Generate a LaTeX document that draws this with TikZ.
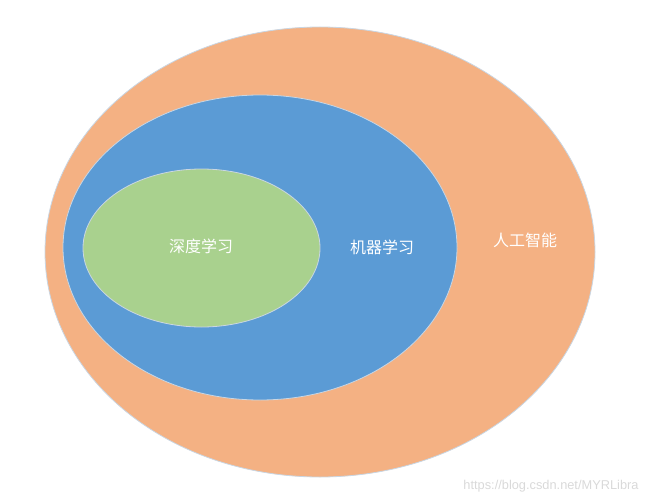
\documentclass[tikz,border=0pt]{standalone}
\usepackage{fontspec}
\newfontfamily\cjk{Noto Sans CJK SC}
\setsansfont{Liberation Sans}
\usetikzlibrary{shapes.geometric}
\definecolor{aiorange}{HTML}{F4B183}
\definecolor{mlblue}{HTML}{5B9BD5}
\definecolor{dlgreen}{HTML}{A9D18E}
\definecolor{rim}{HTML}{C9D6E3}

\begin{document}
\begin{tikzpicture}[x=1pt,y=-1pt,
    area/.style={ellipse,inner sep=0pt,draw=rim,line width=0.8pt},
    tag/.style={text=white,font=\cjk\fontsize{16}{19}\selectfont}]
    \useasboundingbox (0,0) rectangle (647,500);

    \node [area,fill=aiorange,minimum width=550pt,minimum height=450pt] (ai) at (320,252) {};
    \node [area,fill=mlblue,minimum width=394pt,minimum height=305pt] (ml) at (260,247.5) {};
    \node [area,fill=dlgreen,minimum width=237pt,minimum height=158pt] (dl) at (201.5,248) {};

    \node [tag] (dltext) at (201,246) {深度学习};
    \node [tag] (mltext) at (382,247) {机器学习};
    \node [tag] (aitext) at (525,240) {人工智能};

    \node [text=black!15,font=\sffamily\fontsize{12.8}{15}\selectfont] (mark) at (551,486) {https://blog.csdn.net/MYRLibra};
\end{tikzpicture}
\end{document}
